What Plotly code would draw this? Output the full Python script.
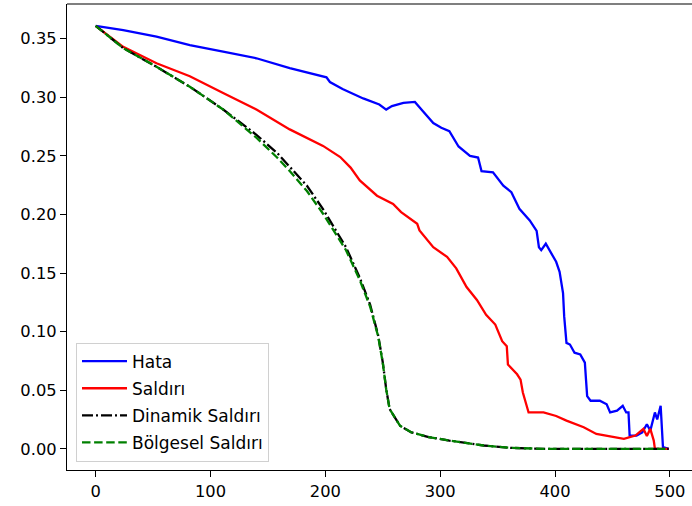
import plotly.graph_objects as go

# --- data ---
hata_x = [0, 24, 53, 82, 111, 140, 169, 198, 201, 204, 215, 233, 247, 253, 258, 268, 278,
          285, 294, 301, 308, 316, 326, 333, 336, 346, 355, 362, 369, 378, 384, 386, 388,
          392, 398, 401, 404, 407, 408, 410, 413, 417, 422, 426, 427, 428, 431, 439, 445,
          448, 454, 459, 462, 464, 465, 471, 476, 480, 483, 487, 489, 492, 494, 499]
hata_y = [0.361, 0.3573, 0.3517, 0.3446, 0.339, 0.3333, 0.3248, 0.3178, 0.317, 0.313, 0.307,
          0.299, 0.2938, 0.2895, 0.2925, 0.2952, 0.296, 0.288, 0.278, 0.274, 0.271, 0.258,
          0.250, 0.2486, 0.237, 0.236, 0.2246, 0.219, 0.2048, 0.1949, 0.186, 0.172, 0.1695,
          0.175, 0.165, 0.1596, 0.151, 0.1328, 0.113, 0.0904, 0.089, 0.082, 0.0805, 0.0735,
          0.059, 0.045, 0.041, 0.041, 0.038, 0.031, 0.0325, 0.0367, 0.031, 0.031, 0.0113,
          0.0113, 0.014, 0.021, 0.0155, 0.031, 0.025, 0.0367, 0.0014, 0.0]

saldiri_x = [0, 24, 53, 82, 111, 128, 140, 169, 198, 213, 222, 230, 245, 259, 266, 280, 282,
             294, 306, 314, 323, 332, 340, 348, 354, 358, 359, 367, 370, 372, 377, 390, 401,
             410, 425, 436, 448, 460, 470, 477, 480, 483, 486, 487, 499]
saldiri_y = [0.361, 0.343, 0.329, 0.318, 0.3037, 0.295, 0.2895, 0.2726, 0.2585, 0.249, 0.240,
             0.229, 0.216, 0.209, 0.202, 0.192, 0.1864, 0.172, 0.1638, 0.154, 0.138, 0.127,
             0.1144, 0.106, 0.0918, 0.0875, 0.072, 0.0636, 0.059, 0.048, 0.031, 0.031, 0.028,
             0.024, 0.0184, 0.0127, 0.0107, 0.0085, 0.0113, 0.017, 0.011, 0.017, 0.007, 0.0, 0.0]

dinamik_x = [0, 24, 53, 82, 111, 140, 158, 169, 184, 198, 218, 230, 239, 246, 250, 253, 256,
             265, 275, 290, 308, 338, 361, 390, 499]
dinamik_y = [0.361, 0.342, 0.326, 0.309, 0.2896, 0.268, 0.2525, 0.241, 0.2245, 0.2045, 0.172,
             0.146, 0.123, 0.097, 0.074, 0.051, 0.034, 0.0197, 0.014, 0.010, 0.007, 0.0028,
             0.0008, 0.0, 0.0]

bolgesel_x = [0, 24, 53, 82, 111, 140, 158, 169, 184, 198, 218, 230, 239, 246, 250, 253, 256,
              265, 275, 290, 308, 338, 361, 390, 499]
bolgesel_y = [0.361, 0.342, 0.326, 0.309, 0.2896, 0.2655, 0.2486, 0.237, 0.220, 0.2006, 0.1695,
              0.144, 0.1214, 0.096, 0.0735, 0.0508, 0.034, 0.0197, 0.014, 0.010, 0.007, 0.0028,
              0.0008, 0.0, 0.0]

x_ticks = [0, 100, 200, 300, 400, 500]
y_ticks = [0.00, 0.05, 0.10, 0.15, 0.20, 0.25, 0.30, 0.35]
y_tick_labels = ["0.00", "0.05", "0.10", "0.15", "0.20", "0.25", "0.30", "0.35"]

LW = 2.3
FS = 16.3
FS_LEG = 17
fig = go.Figure()
fig.add_trace(go.Scatter(x=hata_x, y=hata_y, mode="lines", name="Hata", legendgroup="a",
                         line=dict(color="#0000ff", width=LW)))
fig.add_trace(go.Scatter(x=saldiri_x, y=saldiri_y, mode="lines", name="Saldırı", legendgroup="b",
                         line=dict(color="#ff0000", width=LW)))
fig.add_trace(go.Scatter(x=dinamik_x, y=dinamik_y, mode="lines", name="Dinamik Saldırı",
                         legendgroup="c",
                         line=dict(color="#000000", width=LW, dash="11px,3px,2px,3px")))
fig.add_trace(go.Scatter(x=bolgesel_x, y=bolgesel_y, mode="lines", name="Bölgesel Saldırı",
                         legendgroup="d",
                         line=dict(color="#008000", width=LW, dash="8.5px,3.6px")))

axis_common = dict(showgrid=False, zeroline=False, showline=True, linecolor="black",
                   linewidth=1.2, ticks="outside", ticklen=6, tickwidth=1.2, tickcolor="black",
                   automargin=False,
                   tickfont=dict(family="DejaVu Sans", size=FS, color="black"))

fig.update_layout(
    width=692, height=506,
    margin=dict(l=67, r=0, t=4, b=36, autoexpand=False),
    paper_bgcolor="white", plot_bgcolor="white",
    font=dict(family="DejaVu Sans", size=FS, color="black"),
    xaxis=dict(range=[-24.95, 519.3], tickvals=x_ticks, ticktext=[str(v) for v in x_ticks],
               **axis_common),
    yaxis=dict(range=[-0.0181, 0.3796], tickvals=y_ticks, ticktext=y_tick_labels,
               **axis_common),
    legend=dict(x=0.0144, y=0.018, xanchor="left", yanchor="bottom",
                bgcolor="rgba(255,255,255,0.8)", bordercolor="#d0d0d0", borderwidth=1,
                traceorder="grouped", tracegroupgap=2, itemwidth=45,
                font=dict(family="DejaVu Sans", size=FS_LEG, color="black")),
    showlegend=True,
)
# top spine
fig.add_shape(type="line", xref="paper", yref="paper", x0=0, x1=1, y0=1, y1=1,
              line=dict(color="black", width=1.2))

fig.write_html("out.html", config={"displayModeBar": False},
               post_script="document.body.style.margin='0';document.body.style.padding='0';")
